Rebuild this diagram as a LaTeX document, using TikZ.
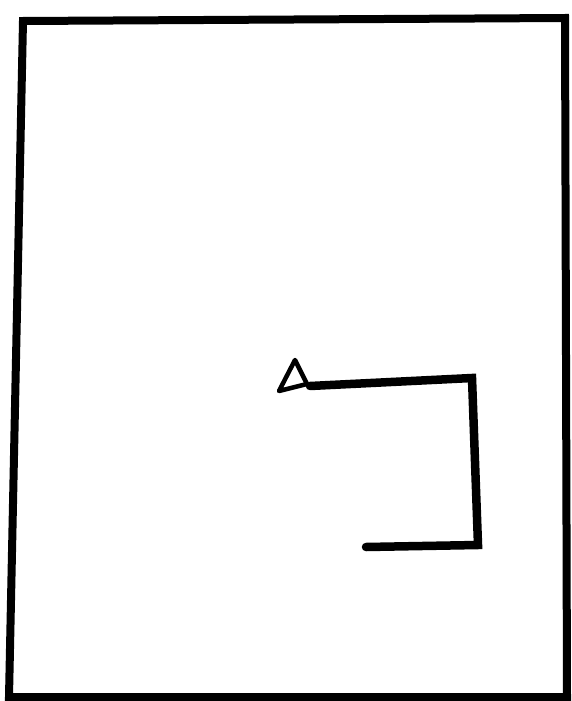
\documentclass[tikz,border=0pt]{standalone}
\usepackage{tikz}
\usetikzlibrary{positioning}

\begin{document}
\begin{tikzpicture}[
    x=1pt, y=-1pt,
    frame/.style={draw, line width=8pt, line join=miter},
    route/.style={draw, line width=8.5pt, line cap=round, line join=miter},
    marker/.style={draw, line width=4.5pt, line join=round}
]
\useasboundingbox (0,0) rectangle (572,701);

% outer frame of the sketch
\coordinate (tl) at (23,21);
\coordinate (tr) at (565,18);
\coordinate (br) at (567,697);
\coordinate (bl) at (9,697);
\draw[frame] (tl) -- (tr) -- (br) -- (bl) -- cycle;

% start marker
\coordinate (apex) at (295,360);
\coordinate (baseL) at (279,391);
\coordinate (baseR) at (307,384);
\draw[marker] (apex) -- (baseL) -- (baseR) -- cycle;

% route
\coordinate (start) at (310,386);
\coordinate (turnA) at (472,378);
\coordinate (turnB) at (478,545);
\coordinate (stop) at (366,547);
\draw[route] (start) -- (turnA) -- (turnB) -- (stop);
\end{tikzpicture}
\end{document}
